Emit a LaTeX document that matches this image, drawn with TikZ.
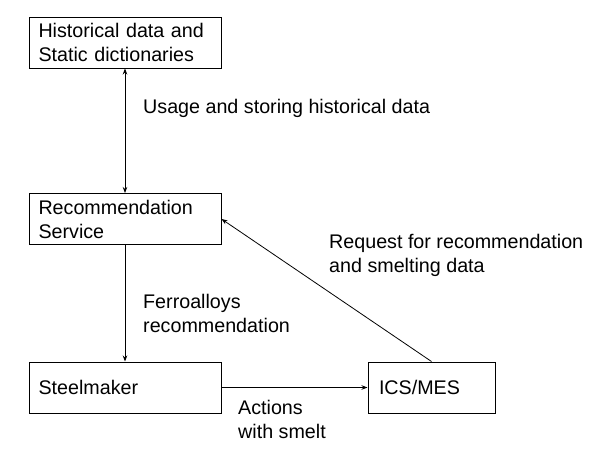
\documentclass[tikz,border=0pt]{standalone}
\usepackage{fontspec}
\setmainfont{Liberation Sans}
\usetikzlibrary{arrows.meta}

\begin{document}
\begin{tikzpicture}
	[
	x=1pt, y=-1pt, font=\fontsize{19.7}{24}\selectfont, >={Stealth[length=6pt, width=4.5pt]},
	%Voreinstellung für Kästen und Beschriftungen
	box/.style={draw, line width=1pt, minimum width=192pt, minimum height=51pt, inner xsep=9.5pt, text width=173pt, align=left},
	lbl/.style={anchor=west, inner sep=0pt, align=left},
	line/.style={line width=0.8pt}
	]

	%Rahmen
	\useasboundingbox (0,0) rectangle (603,456);

	%Kästen
	\node[box] (hist) at (125,42.5) {Historical data and\\Static dictionaries};
	\node[box] (rec) at (125,219) {Recommendation\\Service};
	\node[box] (steel) at (125,387.5) {Steelmaker};
	\node[box, minimum width=127pt, inner xsep=11pt, text width=105pt] (ics) at (431.5,387.5) {ICS/MES};

	%Pfeile
	\draw[<->, line] (hist) -- (rec);
	\draw[->, line] (rec) -- (steel);
	\draw[->, line] (steel) -- (ics);
	\draw[->, line] (ics.north) -- (rec.east);

	%Beschriftungen
	\node[lbl] (usage) at (143,108) {Usage and storing historical data};
	\node[lbl] (request) at (329,255.5) {Request for recommendation\\and smelting data};
	\node[lbl] (ferro) at (143,313.5) {Ferroalloys\\recommendation};
	\node[lbl] (actions) at (238,419.5) {Actions\\with smelt};
\end{tikzpicture}
\end{document}
